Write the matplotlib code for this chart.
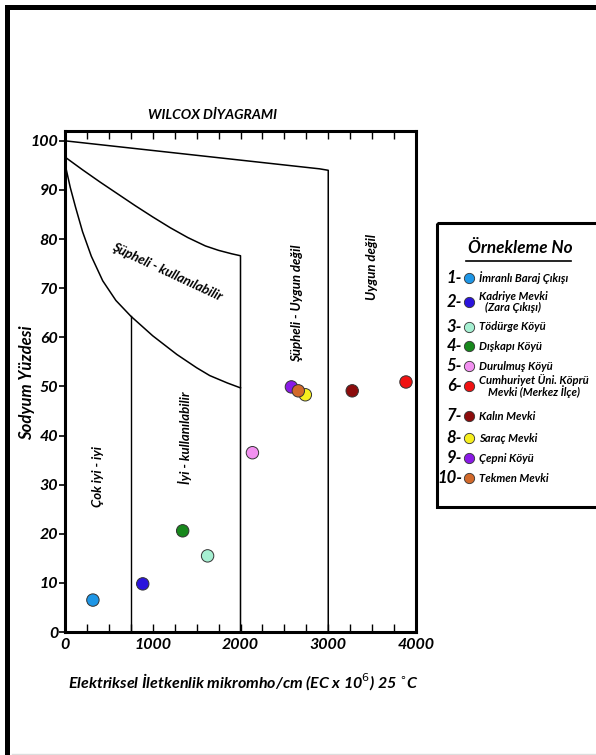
import matplotlib
matplotlib.use('Agg')
import matplotlib.pyplot as plt
from matplotlib.patches import Rectangle
from matplotlib.lines import Line2D

plt.rcParams['font.family'] = ['Lato', 'DejaVu Sans']

# --- veriler --- #
ornek_no = ['1-', '2-', '3-', '4-', '5-', '6-', '7-', '8-', '9-', '10-']
ornek_adi = ['İmranlı Baraj Çıkışı', 'Kadriye Mevki\n(Zara Çıkışı)', 'Tödürge Köyü',
             'Dışkapı Köyü', 'Durulmuş Köyü', 'Cumhuriyet Üni. Köprü\nMevki (Merkez İlçe)',
             'Kalın Mevki', 'Saraç Mevki', 'Çepni Köyü', 'Tekmen Mevki']
ec = [318, 886, 1625, 1341, 2136, 3886, 3273, 2739, 2580, 2659]
na_yuzde = [6.5, 9.8, 15.5, 20.6, 36.5, 50.9, 49.1, 48.3, 49.9, 49.1]
renkler = ['#1e96e6', '#2b14dc', '#a6f0d2', '#17881c', '#f290f0', '#f01212',
           '#8c0c0c', '#f6ee1e', '#8a1ae6', '#d2692a']

# sinir egrileri
ust_x = [0, 2900, 3000, 3000]
ust_y = [100, 94.3, 94.0, 0]
egri2_x = [0, 200, 400, 600, 800, 1000, 1200, 1400, 1600, 1750, 1900, 2000, 2000]
egri2_y = [96.7, 94.1, 91.6, 89.2, 86.8, 84.5, 82.3, 80.3, 78.6, 77.7, 77.0, 76.6, 0]
egri3_x = [0, 60, 120, 200, 300, 430, 580, 750, 1000, 1275, 1500, 1650, 1850, 2000]
egri3_y = [95.3, 90.5, 86.5, 81.5, 76.5, 71.5, 67.5, 64.3, 60.3, 56.5, 53.8, 52.2, 50.7, 49.7]
sinir_750 = 750

W, H = 596, 755
fig = plt.figure(figsize=(W / 100, H / 100), dpi=100)

# dis cerceve
fig.add_artist(Rectangle((6.5 / W, -0.05), 1.2, (H - 6.5) / H + 0.05, transform=fig.transFigure,
                         fill=False, lw=3.6, edgecolor='black'))
fig.add_artist(Line2D([12 / W, 1], [1.5 / H, 1.5 / H], transform=fig.transFigure,
                      color='#dddddd', lw=1))

ax = fig.add_axes([65 / W, 1 - 632 / H, 351 / W, 501 / H])
ax.set_xlim(0, 4000)
ax.set_ylim(0, 102)

ax.plot(ust_x, ust_y, color='black', lw=1.1)
ax.plot(egri2_x, egri2_y, color='black', lw=1.1)
ax.plot(egri3_x, egri3_y, color='black', lw=1.1)
ax.plot([sinir_750, sinir_750], [0, egri3_y[egri3_x.index(sinir_750)]], color='black', lw=1.0)

ax.scatter(ec, na_yuzde, s=80, c=renkler, edgecolors='#333333', linewidths=0.7, zorder=5, clip_on=False)

fb = dict(fontweight='bold', fontstyle='italic')
ax.text(1162, 73.3, 'Şüpheli - kullanılabilir', rotation=-25, rotation_mode='anchor',
        ha='center', va='center', fontsize=9.5, **fb)
ax.text(2644, 67, 'Şüpheli - Uygun değil', rotation=90, ha='center', va='center', fontsize=9.5, **fb)
ax.text(3499, 74.3, 'Uygun değil', rotation=90, ha='center', va='center', fontsize=9.5, **fb)
ax.text(376, 31.6, 'Çok iyi - iyi', rotation=90, ha='center', va='center', fontsize=9.5, **fb)
ax.text(1368, 39.5, 'İyi - kullanılabilir', rotation=90, ha='center', va='center', fontsize=9.5, **fb)

# eksenler
for s in ax.spines.values():
    s.set_linewidth(2.2)
ax.set_yticks(range(0, 101, 10))
ax.set_xticks(range(0, 4001, 250))
ax.set_xticklabels([str(v) if v % 1000 == 0 else '' for v in range(0, 4001, 250)])
ax.tick_params(axis='y', direction='out', length=4, width=1.2, pad=1, labelsize=11.5)
ax.tick_params(axis='x', direction='in', length=6, width=1.0, pad=4, labelsize=11.5,
               top=True, bottom=True)
for lab in ax.get_xticklabels() + ax.get_yticklabels():
    lab.set_fontweight('bold')
    lab.set_fontstyle('italic')

fig.text(213 / W, 1 - 115 / H, 'WILCOX DİYAGRAMI', ha='center', va='center', fontsize=10, **fb)
fig.text(27 / W, 1 - 383 / H, 'Sodyum Yüzdesi', rotation=90, ha='center', va='center', fontsize=12, **fb)
fig.text(244 / W, 1 - 682 / H, 'Elektriksel İletkenlik mikromho/cm (EC x 10$^{6}$) 25 $^{\\circ}$C',
         ha='center', va='center', fontsize=11.5, **fb)

# --- ornekleme listesi --- #
lax = fig.add_axes([0, 0, 1, 1])
lax.set_xlim(0, W)
lax.set_ylim(H, 0)
lax.axis('off')
lax.add_patch(Rectangle((437, 223), 200, 284, fill=False, lw=2.2, edgecolor='black'))
lax.text(520, 248, 'Örnekleme No', ha='center', va='center', fontsize=12.3, **fb)
lax.plot([466, 571], [261, 261], color='black', lw=1.2)

satir_y = [278, 302, 327, 346, 366, 386, 416, 438, 458, 478]
for i in range(len(ornek_no)):
    y = satir_y[i]
    lax.text(462, y, ornek_no[i], ha='right', va='center', fontsize=12, **fb)
    lax.scatter([469], [y], s=55, c=renkler[i], edgecolors='#333333', linewidths=0.6, zorder=5)
    lax.text(479, y, ornek_adi[i], ha='left', va='center', fontsize=8.1, multialignment='center',
             linespacing=1.0, **fb)

fig.savefig('out.png', dpi=100)
